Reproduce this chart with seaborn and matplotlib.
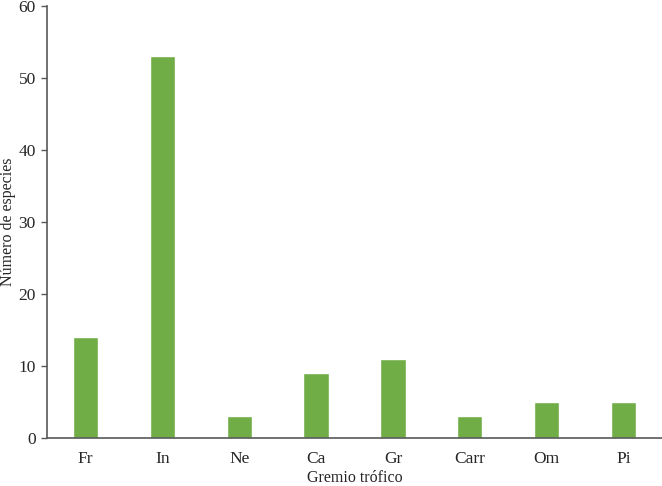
import pandas as pd
import matplotlib
matplotlib.use("Agg")
import matplotlib.pyplot as plt
import seaborn as sns

# data
gremios = ["Fr", "In", "Ne", "Ca", "Gr", "Carr", "Om", "Pi"]
especies = [14, 53, 3, 9, 11, 3, 5, 5]

df = pd.DataFrame({"Gremio": gremios, "Especies": especies})

sns.set_style("white")
plt.rcParams["font.family"] = ["Liberation Serif", "DejaVu Serif"]

fig = plt.figure(figsize=(6.62, 4.86), dpi=100)
ax = fig.add_axes([0.071, 0.099, 0.929, 0.889])

sns.barplot(data=df, x="Gremio", y="Especies", color="#70AD47",
            width=0.33, saturation=1, ax=ax)

ax.set_xlim(-0.5, 7.5)
ax.set_ylim(0, 60)
ax.set_yticks(range(0, 61, 10))
ax.set_xlabel("Gremio trófico", fontsize=11.5)
ax.set_ylabel("Número de especies", fontsize=11.5)
ax.xaxis.set_label_coords(0.5, -0.074)
ax.yaxis.set_label_coords(-0.051, 0.5)
ax.tick_params(axis="y", left=True, length=4, width=1, color="#595959",
               labelsize=12.5, pad=4)
ax.tick_params(axis="x", bottom=False, labelsize=12.5, pad=6)

sns.despine(ax=ax)
for s in ["left", "bottom"]:
    ax.spines[s].set_color("#595959")
    ax.spines[s].set_linewidth(1.2)

fig.savefig("out.png", dpi=100)
